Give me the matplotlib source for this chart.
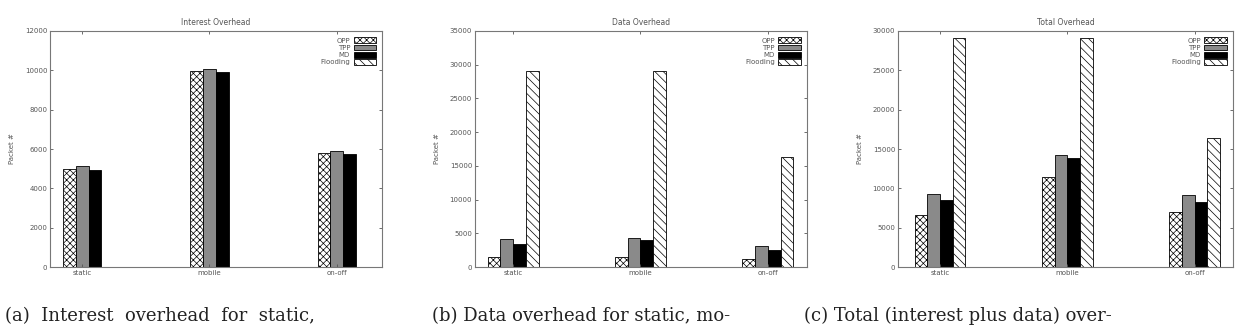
import numpy as np
from matplotlib import pyplot as plt

categories = ["static", "mobile", "on-off"]
series = ["OPP", "TPP", "MD", "Flooding"]

interest_opp = [4980, 9970, 5790]
interest_tpp = [5160, 10070, 5920]
interest_md = [4940, 9930, 5760]

data_opp = [1550, 1550, 1180]
data_tpp = [4150, 4250, 3060]
data_md = [3450, 3950, 2470]
data_flooding = [29100, 29100, 16300]

total_opp = [6600, 11430, 6980]
total_tpp = [9310, 14260, 9100]
total_md = [8460, 13840, 8250]
total_flooding = [29150, 29150, 16380]

captions = ["(a)  Interest  overhead  for  static,",
            "(b) Data overhead for static, mo-",
            "(c) Total (interest plus data) over-"]

plt.rcParams['hatch.linewidth'] = 0.5
text_color = "#555555"

styles = {
    "OPP": dict(color="white", hatch="xxxxx"),
    "TPP": dict(color="#8a8a8a", hatch=None),
    "MD": dict(color="black", hatch=None),
    "Flooding": dict(color="white", hatch="\\\\\\\\"),
}

fig = plt.figure(figsize=(12.42, 3.29), dpi=100)

panels = [
    dict(title="Interest Overhead", rect=[0.0403, 0.1884, 0.2673, 0.7174],
         values=[interest_opp, interest_tpp, interest_md, None],
         ylim=12000, step=2000, xlim=(-0.254, 2.357)),
    dict(title="Data Overhead", rect=[0.3824, 0.1884, 0.2673, 0.7174],
         values=[data_opp, data_tpp, data_md, data_flooding],
         ylim=35000, step=5000, xlim=(-0.30, 2.307)),
    dict(title="Total Overhead", rect=[0.7230, 0.1884, 0.2697, 0.7174],
         values=[total_opp, total_tpp, total_md, total_flooding],
         ylim=30000, step=5000, xlim=(-0.33, 2.30)),
]

width = 0.1
x = np.arange(len(categories))

for p in panels:
    ax = fig.add_axes(p["rect"])
    present = [v is not None for v in p["values"]]
    n = sum(present)
    k = 0
    handles = []
    for name, vals in zip(series, p["values"]):
        st = styles[name]
        if vals is None:
            h = ax.bar([np.nan], [0], width, color=st["color"], hatch=st["hatch"],
                       edgecolor="black", linewidth=0.6, label=name)
        else:
            offset = (k - (n - 1) / 2) * width
            h = ax.bar(x + offset, vals, width, color=st["color"], hatch=st["hatch"],
                       edgecolor="black", linewidth=0.6, label=name)
            k += 1
        handles.append(h)
    ax.set_xlim(*p["xlim"])
    ax.set_ylim(0, p["ylim"])
    ax.set_yticks(np.arange(0, p["ylim"] + 1, p["step"]))
    ax.set_xticks(x)
    ax.set_xticklabels(categories)
    ax.tick_params(direction="in", length=2.5, width=0.6, labelsize=5,
                   colors=text_color, top=True, right=True, pad=2)
    for s in ax.spines.values():
        s.set_color("#777777")
        s.set_linewidth(0.8)
    ax.set_title(p["title"], fontsize=5.5, color=text_color, pad=4)
    ax.set_ylabel("Packet #", fontsize=5, color=text_color, labelpad=7)
    ax.legend(handles=handles, loc="upper right", frameon=False, fontsize=5,
              markerfirst=False, handlelength=3.2, handleheight=0.9,
              labelspacing=0.15, handletextpad=0.5, borderaxespad=0.5,
              labelcolor=text_color)

cap_x = [0.004, 0.348, 0.647]
for cx, cap in zip(cap_x, captions):
    fig.text(cx, 0.04, cap, fontsize=13, family="DejaVu Serif", color="#222222",
             va="center", ha="left")

fig.savefig("out.png", dpi=100, facecolor="white")
